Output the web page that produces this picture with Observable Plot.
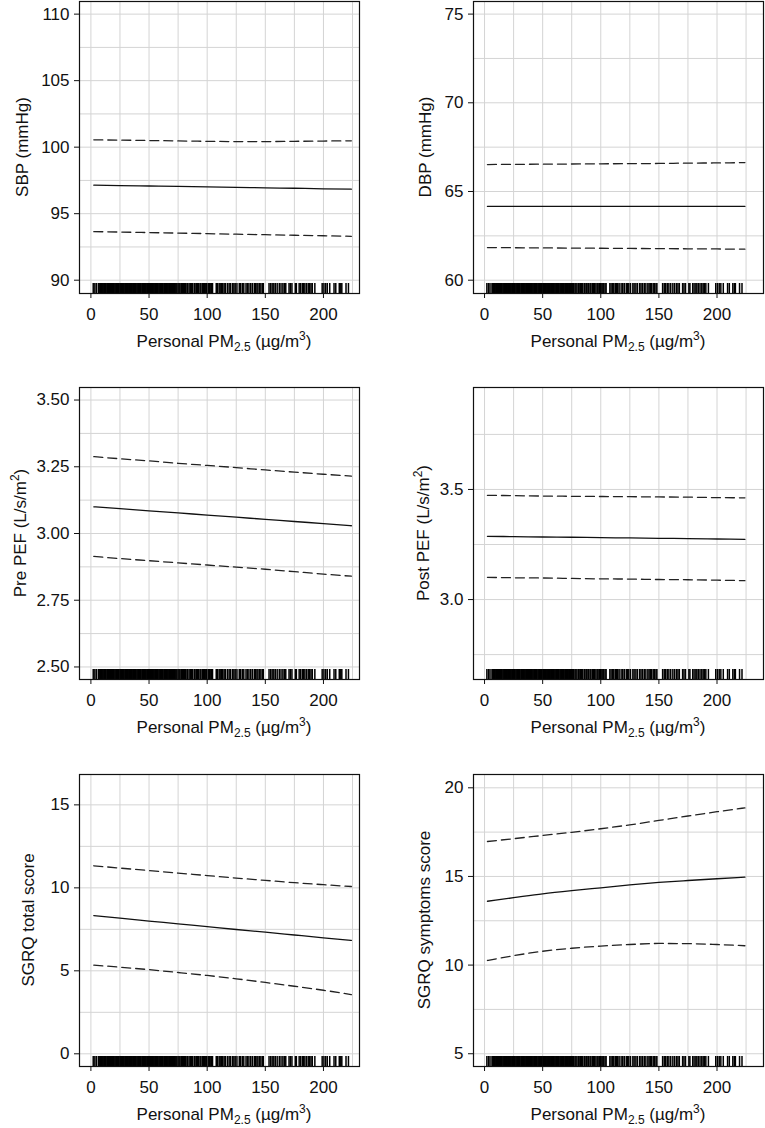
<!DOCTYPE html>
<html>
<head>
<meta charset="utf-8">
<script src="https://cdn.jsdelivr.net/npm/d3@7"></script>
<script src="https://cdn.jsdelivr.net/npm/@observablehq/plot@0.6"></script>
<style>
  html, body { margin: 0; padding: 0; background: #fff; }
  #wrap { position: relative; width: 765px; height: 1128px; overflow: hidden; background: #fff; }
  #wrap svg { position: absolute; }
</style>
</head>
<body>
<div id="wrap"></div>
<script>
// ---------- data ----------
const xs = [2.5, 25, 50, 75, 100, 125, 150, 175, 200, 224];

const sbpFit   = [97.14, 97.11, 97.08, 97.05, 97.01, 96.98, 96.94, 96.91, 96.87, 96.84];
const sbpUpper = [100.55, 100.53, 100.50, 100.47, 100.44, 100.42, 100.42, 100.44, 100.46, 100.48];
const sbpLower = [93.65, 93.62, 93.58, 93.54, 93.50, 93.46, 93.42, 93.38, 93.34, 93.30];

const dbpFit   = [64.16, 64.16, 64.16, 64.16, 64.16, 64.16, 64.16, 64.16, 64.16, 64.16];
const dbpUpper = [66.52, 66.53, 66.54, 66.55, 66.56, 66.57, 66.58, 66.60, 66.61, 66.63];
const dbpLower = [61.84, 61.83, 61.82, 61.81, 61.80, 61.79, 61.78, 61.77, 61.76, 61.75];

const prePefFit   = [3.100, 3.093, 3.085, 3.077, 3.069, 3.061, 3.053, 3.045, 3.037, 3.029];
const prePefUpper = [3.288, 3.280, 3.272, 3.263, 3.255, 3.247, 3.238, 3.230, 3.222, 3.215];
const prePefLower = [2.914, 2.906, 2.898, 2.890, 2.882, 2.874, 2.866, 2.857, 2.848, 2.840];

const postPefFit   = [3.287, 3.286, 3.284, 3.283, 3.281, 3.280, 3.278, 3.277, 3.275, 3.273];
const postPefUpper = [3.473, 3.472, 3.470, 3.469, 3.468, 3.467, 3.466, 3.465, 3.463, 3.462];
const postPefLower = [3.101, 3.099, 3.098, 3.096, 3.094, 3.093, 3.091, 3.090, 3.088, 3.086];

const sgrqTotFit   = [8.33, 8.17, 8.00, 7.83, 7.66, 7.49, 7.33, 7.16, 6.99, 6.83];
const sgrqTotUpper = [11.33, 11.19, 11.04, 10.89, 10.74, 10.59, 10.45, 10.31, 10.19, 10.08];
const sgrqTotLower = [5.34, 5.22, 5.07, 4.90, 4.72, 4.52, 4.30, 4.07, 3.83, 3.57];

const sgrqSymFit   = [13.60, 13.80, 14.02, 14.20, 14.36, 14.52, 14.66, 14.77, 14.87, 14.96];
const sgrqSymUpper = [16.97, 17.13, 17.31, 17.49, 17.69, 17.91, 18.16, 18.41, 18.65, 18.87];
const sgrqSymLower = [10.26, 10.53, 10.78, 10.95, 11.07, 11.16, 11.22, 11.21, 11.16, 11.09];

// rug: observed personal PM2.5 values
const rug = [
  2.0, 3.4, 4.7, 6.4, 7.1, 7.8, 8.4, 9.0, 9.7, 10.3, 11.1, 11.8, 12.4, 13.0, 13.8, 14.5, 15.1, 15.9,
  16.6, 17.2, 17.9, 18.7, 19.3, 20.0, 20.8, 21.5, 22.1, 22.9, 23.6, 24.2, 25.0, 25.7, 26.3, 27.1, 27.8,
  28.4, 29.2, 29.9, 30.5, 31.3, 32.0, 32.6, 33.4, 34.1, 34.7, 35.5, 36.2, 36.8, 37.6, 38.3, 38.9, 39.7,
  40.4, 41.0, 41.8, 42.5, 43.1, 43.9, 44.6, 45.2, 46.0, 46.7, 47.3, 48.1, 48.8, 49.4, 50.2, 50.9, 51.5,
  52.3, 53.0, 53.6, 54.4, 55.1, 55.7, 56.5, 57.2, 57.8, 58.6, 59.3, 59.9, 60.7, 61.4, 62.0, 62.8, 63.5,
  64.1, 64.9, 65.6, 66.2, 67.0, 67.7, 68.3, 69.1, 69.8, 70.4, 71.2, 71.9, 72.5, 73.3, 74.0,
  75.0, 75.9, 76.7, 77.8, 78.6, 79.5, 80.7, 81.4, 82.6, 83.3, 84.5, 85.8, 86.4, 87.5, 88.9, 89.6,
  90.8, 91.5, 92.7, 93.9, 94.6, 95.8, 96.9, 97.7, 98.8, 99.6, 100.9, 101.8, 102.6, 103.7, 104.6,
  107.8, 108.9, 110.3, 111.2, 112.5, 113.4, 114.6, 115.8, 117.5, 118.9, 120.2,
  121.9, 123.0, 124.1, 125.6, 127.6, 128.7, 130.2, 131.5, 133.4, 134.6, 135.9, 137.4, 138.8,
  140.5, 141.6, 142.8, 143.7, 145.1, 146.2, 147.5, 148.3, 153.2, 154.6, 155.9, 157.3, 158.6, 160.2,
  162.0, 163.5, 165.1, 166.4, 167.6, 170.4, 171.6, 172.9, 175.8, 176.7,
  179.1, 180.3, 181.8, 182.7, 184.0, 185.4, 186.9, 188.1, 189.3, 190.4, 192.6,
  198.9, 200.4, 201.9, 203.3, 205.4, 209.1, 210.6, 213.6, 214.9, 215.8, 219.4, 221.5
];

// axes / labels
const xTicks = [0, 50, 100, 150, 200];
const xGrid = [0, 25, 50, 75, 100, 125, 150, 175, 200, 225];
const xLabelMain = "Personal PM";
const xLabelSub = "2.5";
const xLabelUnit = " (µg/m";
const xLabelSup = "3";

const yLabelMain = ["SBP (mmHg)", "DBP (mmHg)", "Pre PEF (L/s/m", "Post PEF (L/s/m", "SGRQ total score", "SGRQ symptoms score"];
const yLabelSup  = ["", "", "2", "2", "", ""];
const yLabelEnd  = ["", "", ")", ")", "", ""];

const yDomains = [[89.0, 110.95], [59.25, 75.71], [2.453, 3.547], [2.637, 3.963], [-0.765, 16.83], [4.28, 20.75]];
const yTicks = [[90, 95, 100, 105, 110], [60, 65, 70, 75], [2.5, 2.75, 3.0, 3.25, 3.5], [3.0, 3.5], [0, 5, 10, 15], [5, 10, 15, 20]];
const yGrid = [
  [90, 92.5, 95, 97.5, 100, 102.5, 105, 107.5, 110],
  [60, 62.5, 65, 67.5, 70, 72.5, 75],
  [2.5, 2.625, 2.75, 2.875, 3.0, 3.125, 3.25, 3.375, 3.5],
  [2.75, 3.0, 3.25, 3.5, 3.75],
  [0, 2.5, 5, 7.5, 10, 12.5, 15],
  [5, 7.5, 10, 12.5, 15, 17.5, 20]
];
const yFormats = ["d", "d", ".2f", ".1f", "d", "d"];

const fits   = [sbpFit, dbpFit, prePefFit, postPefFit, sgrqTotFit, sgrqSymFit];
const uppers = [sbpUpper, dbpUpper, prePefUpper, postPefUpper, sgrqTotUpper, sgrqSymUpper];
const lowers = [sbpLower, dbpLower, prePefLower, postPefLower, sgrqTotLower, sgrqSymLower];

// ---------- layout ----------
const FONT = "'Liberation Sans', Arial, Helvetica, sans-serif";
const FS = 17;
const yLabelOffset = [51, 42, 53, 44, 45, 43];
const colLeft = [0, 380];
const colWidth = [380, 385];
const colMarginLeft = [79, 93];
const colMarginRight = [21, 2];
const colXDomain = [[-9.8, 231], [-9.5, 240]];
const colXLabelShift = [5, 0];
const rowTop = [0, 386, 773];
const rowMarginBottom = [70, 70, 62];

function xLabelMark(col) {
  return (index, scales, values, dim) => {
    const cx = (dim.marginLeft + dim.width - dim.marginRight) / 2 + colXLabelShift[col];
    const y = dim.height - dim.marginBottom + 54;
    const t = d3.create("svg:text")
      .attr("x", cx).attr("y", y)
      .attr("text-anchor", "middle")
      .attr("font-family", FONT).attr("font-size", FS).attr("fill", "#111");
    t.append("tspan").text(xLabelMain);
    t.append("tspan").attr("dy", 4).attr("font-size", 12).text(xLabelSub);
    t.append("tspan").attr("dy", -4).text(xLabelUnit);
    t.append("tspan").attr("dy", -7).attr("font-size", 12).text(xLabelSup);
    t.append("tspan").attr("dy", 7).text(")");
    return t.node();
  };
}

function yLabelMark(i) {
  return (index, scales, values, dim) => {
    const cy = (dim.marginTop + dim.height - dim.marginBottom) / 2;
    const x = dim.marginLeft - yLabelOffset[i];
    const t = d3.create("svg:text")
      .attr("transform", `translate(${x},${cy}) rotate(-90)`)
      .attr("text-anchor", "middle")
      .attr("font-family", FONT).attr("font-size", FS).attr("fill", "#111");
    t.append("tspan").text(yLabelMain[i]);
    if (yLabelSup[i]) {
      t.append("tspan").attr("dy", -7).attr("font-size", 12).text(yLabelSup[i]);
      t.append("tspan").attr("dy", 7).text(yLabelEnd[i]);
    }
    return t.node();
  };
}

const wrap = document.getElementById("wrap");

for (let i = 0; i < 6; i++) {
  const col = i % 2, row = Math.floor(i / 2);
  const rows = xs.map((x, k) => ({x, fit: fits[i][k], lo: lowers[i][k], hi: uppers[i][k]}));
  const y0 = yDomains[i][0];
  const chart = Plot.plot({
    width: colWidth[col],
    height: 1 + 292 + rowMarginBottom[row],
    marginTop: 1,
    marginBottom: rowMarginBottom[row],
    marginLeft: colMarginLeft[col],
    marginRight: colMarginRight[col],
    style: {fontFamily: FONT, fontSize: FS + "px", background: "transparent", color: "#111", overflow: "visible"},
    x: {domain: colXDomain[col]},
    y: {domain: yDomains[i]},
    marks: [
      Plot.gridX(xGrid, {stroke: "#d4d4d4", strokeOpacity: 1, strokeWidth: 1}),
      Plot.gridY(yGrid[i], {stroke: "#d4d4d4", strokeOpacity: 1, strokeWidth: 1}),
      Plot.ruleX(rug, {x: d => d, y1: y0, y2: y0, insetTop: -10, stroke: "#000", strokeWidth: 1.5}),
      Plot.line(rows, {x: "x", y: "hi", stroke: "#222", strokeWidth: 1.3, strokeDasharray: "9,5", curve: "monotone-x"}),
      Plot.line(rows, {x: "x", y: "lo", stroke: "#222", strokeWidth: 1.3, strokeDasharray: "9,5", curve: "monotone-x"}),
      Plot.line(rows, {x: "x", y: "fit", stroke: "#111", strokeWidth: 1.3, curve: "monotone-x"}),
      Plot.frame({stroke: "#111", strokeWidth: 1.2}),
      Plot.axisX(xTicks, {tickSize: 5, tickPadding: 9, label: null, fontSize: FS, stroke: "#111"}),
      Plot.axisY(yTicks[i], {tickSize: 5, tickPadding: 5, label: null, fontSize: FS, tickFormat: d3.format(yFormats[i]), stroke: "#111"}),
      xLabelMark(col),
      yLabelMark(i)
    ]
  });
  chart.style.left = colLeft[col] + "px";
  chart.style.top = rowTop[row] + "px";
  wrap.appendChild(chart);
}
</script>
</body>
</html>
